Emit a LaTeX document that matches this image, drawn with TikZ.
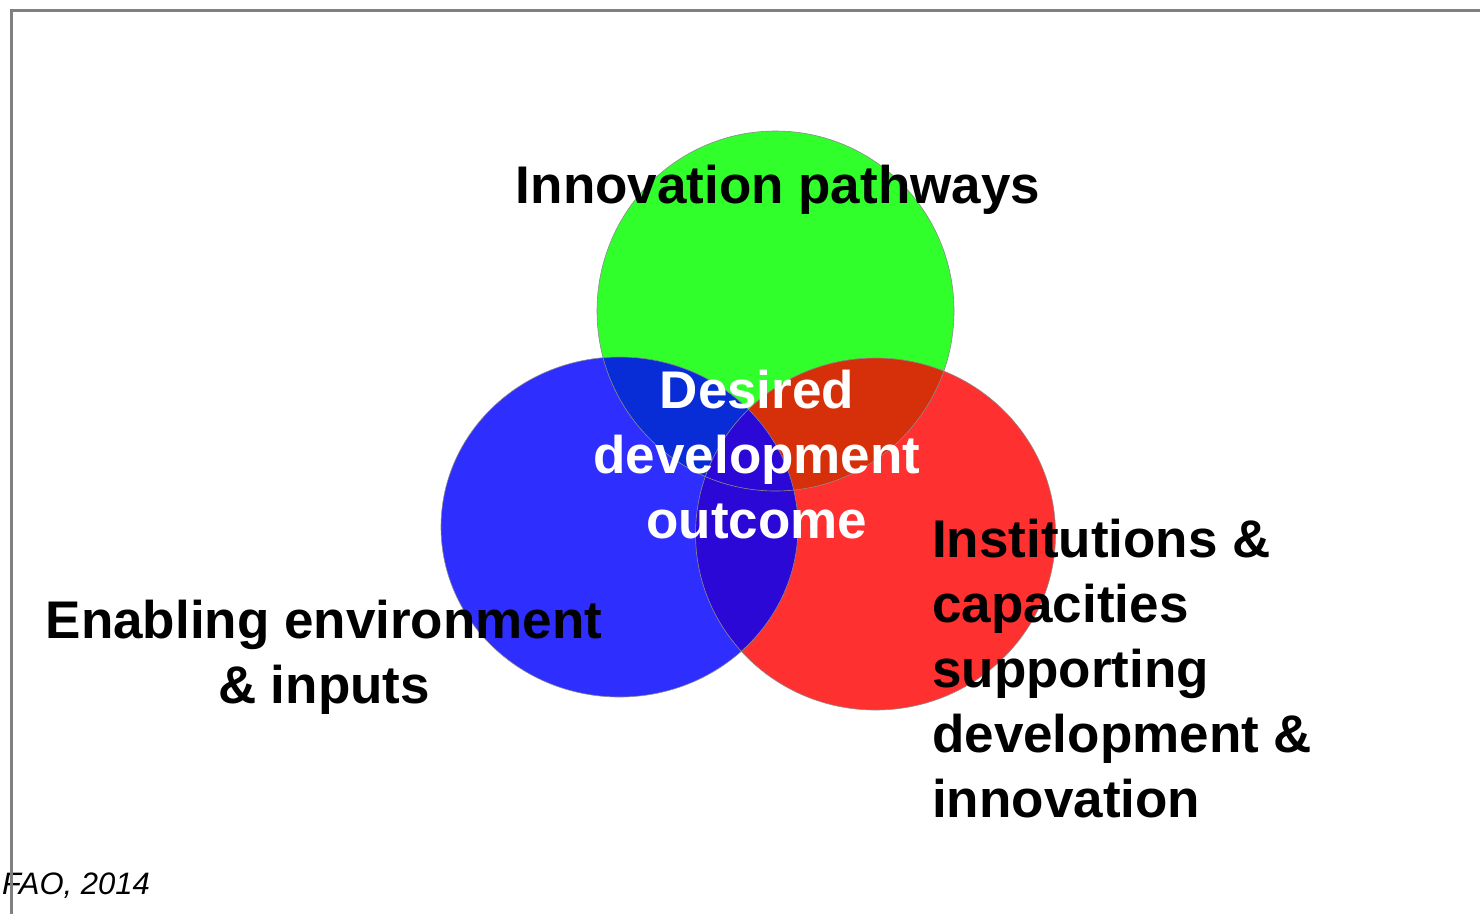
\documentclass[tikz,border=0pt]{standalone}
\usepackage{fontspec}
\setmainfont{Liberation Sans}

\definecolor{ipgreen}{RGB}{48,255,44}
\definecolor{eeblue}{RGB}{46,46,255}
\definecolor{icred}{RGB}{255,48,48}
\definecolor{bgmix}{RGB}{8,44,214}
\definecolor{rgmix}{RGB}{214,48,10}
\definecolor{brmix}{RGB}{44,8,214}
\definecolor{framegray}{RGB}{128,128,128}

\begin{document}
\begin{tikzpicture}[x=1pt,y=-1pt,
    boldtext/.style={font=\fontsize{53}{65}\selectfont\bfseries,inner sep=0pt,anchor=base},
    rim/.style={draw=black!45,line width=0.6pt}]
      \useasboundingbox (0,0) rectangle (1480,914);
      % the three sets
      \fill[ipgreen] (775.5,311) ellipse [x radius=178.5,y radius=180];
      \fill[icred] (875.5,534) ellipse [x radius=180,y radius=176];
      \begin{scope}
        \clip (875.5,534) ellipse [x radius=180,y radius=176];
        \fill[rgmix] (775.5,311) ellipse [x radius=178.5,y radius=180];
      \end{scope}
      \fill[eeblue] (619.5,527) ellipse [x radius=178.5,y radius=170];
      \begin{scope}
        \clip (619.5,527) ellipse [x radius=178.5,y radius=170];
        \fill[bgmix] (775.5,311) ellipse [x radius=178.5,y radius=180];
        \fill[brmix] (875.5,534) ellipse [x radius=180,y radius=176];
      \end{scope}
      \begin{scope}[rim]
        \draw (775.5,311) ellipse [x radius=178.5,y radius=180];
        \draw (875.5,534) ellipse [x radius=180,y radius=176];
        \draw (619.5,527) ellipse [x radius=178.5,y radius=170];
      \end{scope}
      % labels (base = last line)
      \node[boldtext] (ip) at (778,203) {Innovation pathways};
      \node[boldtext,align=center,text=white] (ddo) at (757,538) {Desired\\development\\outcome};
      \node[boldtext,align=center] (ee) at (324,703) {Enabling environment\\\& inputs};
      \node[boldtext,align=left,anchor=base west] (ic) at (932,817) {Institutions \&\\capacities\\supporting\\development \&\\innovation};
      \node[font=\fontsize{31}{36}\selectfont\itshape,inner sep=0pt,anchor=base west] (src) at (2,894) {FAO, 2014};
      % frame
      \draw[framegray,line width=3pt] (1480,10.5) -- (11.5,10.5) -- (11.5,914);
    \end{tikzpicture}
\end{document}
